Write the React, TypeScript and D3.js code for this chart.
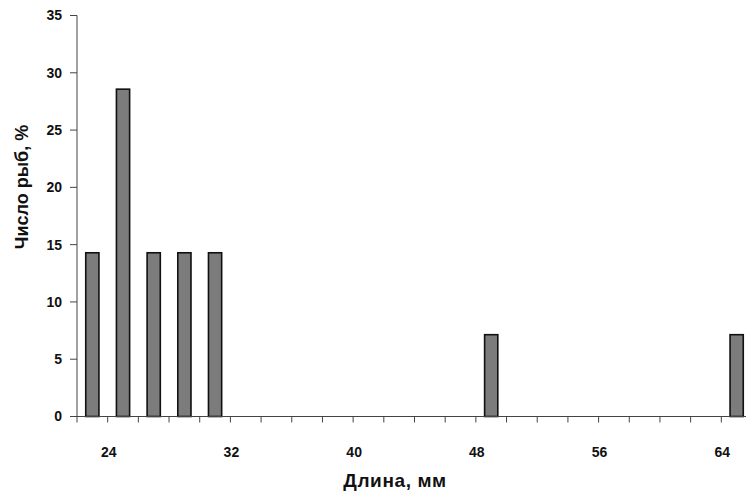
import * as d3 from "d3";
import { useEffect, useRef } from "react";

// bin centres (mm) and share of fish (%)
const lengths = [23, 25, 27, 29, 31, 49, 65];
const shares = [14.29, 28.57, 14.29, 14.29, 14.29, 7.14, 7.14];
const yTicks = [0, 5, 10, 15, 20, 25, 30, 35];
const xMinor = d3.range(22, 67, 2);
const xLabels = [24, 32, 40, 48, 56, 64];

const App = () => {
  const svgRef = useRef<SVGSVGElement>(null);

  useEffect(() => {
    document.body.style.margin = "0";
    const width = 746;
    const height = 495;
    const font = "'Liberation Sans', Arial, sans-serif";

    const svg = d3.select(svgRef.current).attr("width", width).attr("height", height);
    svg.selectAll("*").remove();

    const x = d3.scaleLinear().domain([22, 66]).range([77, 752]);
    const y = d3.scaleLinear().domain([0, 35]).range([416.5, 15.5]);
    const bw = (x(2) - x(0)) * 0.43;

    svg.append("rect").attr("width", width).attr("height", height).attr("fill", "#fff");

    // bars
    svg
      .append("g")
      .selectAll("rect")
      .data(lengths)
      .join("rect")
      .attr("x", (d) => x(d) - bw / 2)
      .attr("y", (d, i) => y(shares[i]))
      .attr("width", bw)
      .attr("height", (d, i) => y(0) - y(shares[i]))
      .attr("fill", "#7c7c7c")
      .attr("stroke", "#111")
      .attr("stroke-width", 1.6);

    // y axis
    const gy = svg.append("g");
    gy.append("line")
      .attr("x1", x(22)).attr("x2", x(22))
      .attr("y1", y(35)).attr("y2", y(0))
      .attr("stroke", "#444").attr("stroke-width", 1);
    gy.selectAll("line.t")
      .data(yTicks)
      .join("line")
      .attr("class", "t")
      .attr("x1", x(22) - 7).attr("x2", x(22))
      .attr("y1", (d) => y(d)).attr("y2", (d) => y(d))
      .attr("stroke", "#444");
    gy.selectAll("text")
      .data(yTicks)
      .join("text")
      .attr("x", 62)
      .attr("y", (d) => y(d))
      .attr("dy", "0.35em")
      .attr("text-anchor", "end")
      .style("font", `bold 14px ${font}`)
      .attr("fill", "#111")
      .text((d) => d);

    // x axis
    const gx = svg.append("g");
    gx.append("line")
      .attr("x1", x(22)).attr("x2", width)
      .attr("y1", y(0)).attr("y2", y(0))
      .attr("stroke", "#444");
    gx.selectAll("line.t")
      .data(xMinor)
      .join("line")
      .attr("class", "t")
      .attr("x1", (d) => x(d)).attr("x2", (d) => x(d))
      .attr("y1", y(0)).attr("y2", y(0) + 6)
      .attr("stroke", "#444");
    gx.selectAll("text")
      .data(xLabels)
      .join("text")
      .attr("x", (d) => x(d) + 1)
      .attr("y", 457)
      .attr("text-anchor", "middle")
      .style("font", `bold 14px ${font}`)
      .attr("fill", "#111")
      .text((d) => d);

    // titles
    svg.append("text")
      .attr("x", 395)
      .attr("y", 487)
      .attr("text-anchor", "middle")
      .style("font", `bold 19px ${font}`)
      .style("letter-spacing", "0.6px")
      .attr("fill", "#111")
      .text("Длина, мм");
    svg.append("text")
      .attr("transform", "translate(28,187) rotate(-90)")
      .attr("text-anchor", "middle")
      .style("font", `bold 18px ${font}`)
      .attr("fill", "#111")
      .text("Число рыб, %");
  }, []);

  return <svg ref={svgRef}></svg>;
};

export default App;
